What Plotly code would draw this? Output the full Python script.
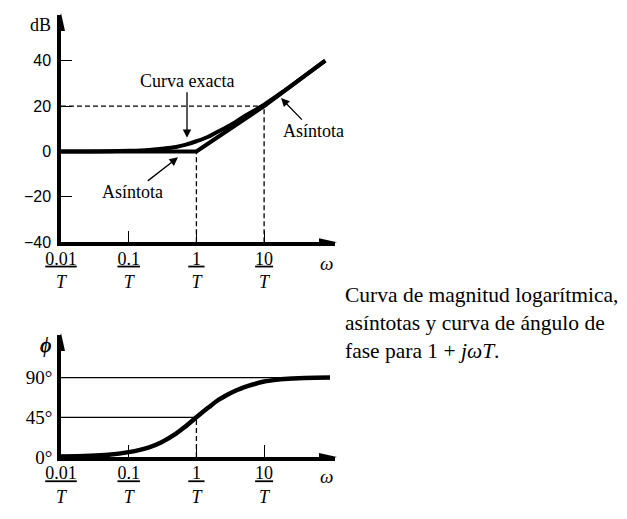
import plotly.graph_objects as go

# ---------------- data ----------------
w_asym = [0.01, 1, 10, 80]
db_asym = [0, 0, 20, 40]

w_exact = [0.01, 0.05, 0.1, 0.2, 0.3, 0.5, 0.7, 1, 1.5, 2, 3, 5, 10, 20, 40, 80]
db_exact = [0, 0.1, 0.3, 0.7, 1.2, 2.0, 3.0, 4.5, 6.5, 8.5, 11.2, 15.3, 20.6, 26.8, 33.4, 40]

w_phase = [0.01, 0.05, 0.1, 0.2, 0.3, 0.5, 0.7, 1, 1.5, 2, 2.5, 3, 4, 5, 7, 10, 15, 20, 40, 94]
ph_phase = [0.5, 2.5, 5.5, 11, 16.5, 26.5, 35, 45, 56, 63.5, 68, 71.5, 76, 79, 82.5, 85.5, 87.5, 88.5, 89.5, 90]

x_tick_vals = [0.01, 0.1, 1, 10]
x_tick_num = ["0.01", "0.1", "\u20091\u2009", "10"]
db_tick_vals = [-40, -20, 0, 20, 40]
db_tick_text = ["\u221240", "\u221220", "0", "20", "40"]
ph_tick_vals = [0, 45, 90]
ph_tick_text = ["0\u00b0", "45\u00b0", "90\u00b0"]

ref_db = 20          # dashed level in magnitude plot
ref_w = [1, 10]      # dashed verticals
ref_phase = [45, 90]

SERIF = "Liberation Serif"
SANS = "Liberation Sans"
BLACK = "#000000"

frac_text = ["<u>%s</u><br><i>T</i>" % n for n in x_tick_num]

fig = go.Figure()

# ---------- magnitude plot ----------
dash = "5px,3px"
fig.add_trace(go.Scatter(x=[0.01, ref_w[1]], y=[ref_db, ref_db], mode="lines",
                         line=dict(color=BLACK, width=1.3, dash=dash), xaxis="x", yaxis="y"))
fig.add_trace(go.Scatter(x=[ref_w[0], ref_w[0]], y=[-40, 0], mode="lines",
                         line=dict(color=BLACK, width=1.3, dash=dash), xaxis="x", yaxis="y"))
fig.add_trace(go.Scatter(x=[ref_w[1], ref_w[1]], y=[-40, ref_db], mode="lines",
                         line=dict(color=BLACK, width=1.3, dash=dash), xaxis="x", yaxis="y"))
fig.add_trace(go.Scatter(x=w_asym, y=db_asym, mode="lines",
                         line=dict(color=BLACK, width=4), xaxis="x", yaxis="y"))
fig.add_trace(go.Scatter(x=w_exact, y=db_exact, mode="lines", line_shape="spline",
                         line=dict(color=BLACK, width=4), xaxis="x", yaxis="y"))

# ---------- phase plot ----------
fig.add_trace(go.Scatter(x=[0.01, w_phase[-1]], y=[ref_phase[1]] * 2, mode="lines",
                         line=dict(color=BLACK, width=1.2), xaxis="x2", yaxis="y2"))
fig.add_trace(go.Scatter(x=[0.01, ref_w[0]], y=[ref_phase[0]] * 2, mode="lines",
                         line=dict(color=BLACK, width=1.2), xaxis="x2", yaxis="y2"))
fig.add_trace(go.Scatter(x=[ref_w[0], ref_w[0]], y=[0, ref_phase[0]], mode="lines",
                         line=dict(color=BLACK, width=1.3, dash=dash), xaxis="x2", yaxis="y2"))
fig.add_trace(go.Scatter(x=w_phase, y=ph_phase, mode="lines", line_shape="spline",
                         line=dict(color=BLACK, width=4.5), xaxis="x2", yaxis="y2"))

xdom = [61 / 627, 335 / 627]
xrange_log = [-2, 2.047]

common_x = dict(type="log", range=xrange_log, domain=xdom, showgrid=False, zeroline=False,
                automargin=False,
                showline=True, linewidth=3.5, linecolor=BLACK,
                ticks="inside", ticklen=12, tickwidth=1.3, tickcolor=BLACK,
                tickvals=x_tick_vals, ticktext=frac_text,
                tickfont=dict(family=SERIF, size=18, color=BLACK), ticklabelstandoff=-3)

fig.update_layout(
    width=627, height=519, autosize=False,
    margin=dict(l=0, r=0, t=0, b=0),
    paper_bgcolor="white", plot_bgcolor="white",
    showlegend=False,
    xaxis=dict(anchor="y", **common_x),
    yaxis=dict(anchor="x", domain=[1 - 242.3 / 519, 1 - 15 / 519], range=[-40, 60.1],
               automargin=False,
               showgrid=False, zeroline=False, showline=True, linewidth=3.5, linecolor=BLACK,
               ticks="inside", ticklen=11, tickwidth=1.3, tickcolor=BLACK,
               tickvals=db_tick_vals, ticktext=db_tick_text,
               tickfont=dict(family=SANS, size=16, color=BLACK), ticklabelstandoff=3),
    xaxis2=dict(anchor="y2", **common_x),
    yaxis2=dict(anchor="x2", domain=[1 - 457 / 519, 1 - 335 / 519], range=[0, 138.3],
                automargin=False,
                showgrid=False, zeroline=False, showline=True, linewidth=3.5, linecolor=BLACK,
                ticks="", tickvals=ph_tick_vals, ticktext=ph_tick_text,
                tickfont=dict(family=SERIF, size=19, color=BLACK), ticklabelstandoff=1),
)

# axis arrowheads (pixel-sized paths anchored at axis ends)
for xr, yr in (("x", "y"), ("x2", "y2")):
    fig.add_shape(type="path", xref=xr + " domain", yref=yr + " domain",
                  xsizemode="pixel", ysizemode="pixel", xanchor=1, yanchor=0,
                  path="M2,0 L-16,4 L-16,-4 Z", fillcolor=BLACK, line=dict(width=0))
    fig.add_shape(type="path", xref=xr + " domain", yref=yr + " domain",
                  xsizemode="pixel", ysizemode="pixel", xanchor=0, yanchor=1,
                  path="M0,2 L-4,-16 L4,-16 Z", fillcolor=BLACK, line=dict(width=0))

# axis titles
title_kw = dict(xref="paper", yref="paper", showarrow=False, xanchor="center", yanchor="middle")
fig.add_annotation(text="dB", x=40 / 627, y=1 - 25 / 519,
                   font=dict(family=SERIF, size=18, color=BLACK), **title_kw)
fig.add_annotation(text="<i>\u03c9</i>", x=326 / 627, y=1 - 263 / 519,
                   font=dict(family=SERIF, size=19, color=BLACK), **title_kw)
fig.add_annotation(text="<i>\u03c9</i>", x=326 / 627, y=1 - 476 / 519,
                   font=dict(family=SERIF, size=19, color=BLACK), **title_kw)
fig.add_annotation(text="<b><i>\u03d5</i></b>", x=46 / 627, y=1 - 345 / 519,
                   font=dict(family=SERIF, size=20, color=BLACK), **title_kw)

# callouts
arrow_kw = dict(showarrow=True, arrowhead=2, arrowsize=1.3, arrowwidth=1.3, arrowcolor=BLACK,
                font=dict(family=SERIF, size=18, color=BLACK), xref="x", yref="y")
fig.add_annotation(text="Curva exacta", x=-0.139, y=6.0, ax=0, ay=-57, **arrow_kw)
fig.add_annotation(text="As\u00edntota", x=-0.272, y=-2.6, ax=-45, ay=35, **arrow_kw)
fig.add_annotation(text="As\u00edntota", x=1.25, y=23.5, ax=32, ay=33, **arrow_kw)

# caption
fig.add_annotation(text="Curva de magnitud logar\u00edtmica,<br>as\u00edntotas y curva de \u00e1ngulo de"
                        "<br>fase para 1 + <i>j\u03c9T</i>.",
                   xref="paper", yref="paper", x=343 / 627, y=1 - 281 / 519,
                   xanchor="left", yanchor="top", align="left", showarrow=False,
                   font=dict(family=SERIF, size=21.5, color=BLACK))

fig.write_html("out.html")
